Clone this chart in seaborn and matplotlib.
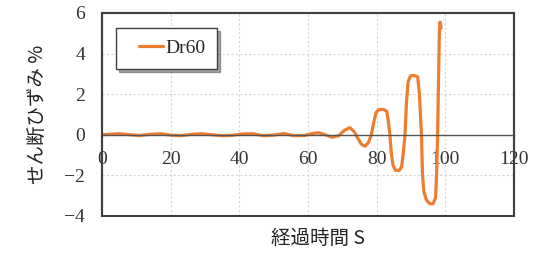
import numpy as np
import pandas as pd
import seaborn as sns
import matplotlib.pyplot as plt
from matplotlib.patches import Rectangle
from matplotlib.legend_handler import HandlerLine2D

# data
time = [0, 2, 5, 8, 11, 14, 17, 20, 23, 26, 29, 32, 35, 38, 41, 44, 47, 50, 53,
        56, 59, 61, 63, 65, 67, 69, 70.5, 72.2, 73.5, 74.3, 75.5, 76.6, 77.6,
        78.5, 79.3, 79.9, 80.6, 82, 83, 83.5, 83.9, 84.3, 84.8, 85.5, 86.5,
        87.3, 87.8, 88.3, 88.7, 89.2, 89.9, 91, 92, 92.5, 93.1, 93.4, 93.8,
        94.5, 95.5, 96.5, 97.2, 97.5, 97.8, 98.1, 98.3, 98.5, 98.8]
strain = [0.0, 0.02, 0.05, 0.0, -0.04, 0.02, 0.05, -0.02, -0.05, 0.02, 0.05,
          0.0, -0.05, -0.03, 0.04, 0.05, -0.05, -0.02, 0.06, -0.05, -0.04, 0.05,
          0.1, 0.0, -0.12, -0.05, 0.2, 0.35, 0.15, -0.1, -0.45, -0.57, -0.4,
          0.0, 0.7, 1.1, 1.23, 1.25, 1.15, 0.6, 0.0, -0.9, -1.5, -1.75, -1.77,
          -1.6, -0.9, 0.0, 1.5, 2.6, 2.9, 2.92, 2.85, 2.0, 0.0, -2.0, -2.8,
          -3.2, -3.4, -3.4, -3.1, -2.0, 0.0, 3.0, 5.0, 5.55, 5.25]
series_name = 'Dr60'
xticks = [0, 20, 40, 60, 80, 100, 120]
yticks = [-4, -2, 0, 2, 4, 6]

df = pd.DataFrame({'time': time, 'strain': strain, 'case': series_name})

sns.set_style('white')
plt.rcParams['font.family'] = ['Liberation Serif', 'Noto Sans CJK JP']

fig = plt.figure(figsize=(5.42, 2.54), dpi=100)
ax = fig.add_axes([0.188, 0.150, 0.760, 0.799])

sns.lineplot(data=df, x='time', y='strain', hue='case', sort=False,
             palette=['#ED7D31'], linewidth=2.3, ax=ax)

ax.set_xlim(0, 120)
ax.set_ylim(-4, 6)
ax.set_xticks(xticks)
ax.set_yticks(yticks)
ax.grid(True, color='#d4d4d4', linestyle=(0, (2, 2)), linewidth=0.8)

# x axis crosses at 0 like Excel
ax.spines['bottom'].set_position(('data', 0))
ax.spines['bottom'].set_color('#555555')
ax.spines['bottom'].set_linewidth(1.0)
for s in ['left', 'right', 'top']:
    ax.spines[s].set_color('#404040')
    ax.spines[s].set_linewidth(1.5)
ax.add_patch(Rectangle((0, 0), 1, 1, transform=ax.transAxes, fill=False,
                       edgecolor='#404040', linewidth=1.5, clip_on=False, zorder=5))

ax.tick_params(axis='x', length=0, pad=12, labelsize=14, labelcolor='#333333')
ax.tick_params(axis='y', length=0, pad=12, labelsize=14, labelcolor='#333333')

ax.set_xlabel('')
ax.set_ylabel('せん断ひずみ %', fontsize=14, family=['Noto Sans CJK JP'],
              color='#222222', labelpad=12)
fig.text(0.587, 0.063, '経過時間 S', fontsize=14, family=['Noto Sans CJK JP'],
         color='#222222', ha='center', va='center')

handles, labels = ax.get_legend_handles_labels()
leg = ax.legend(handles, labels, loc='upper left', bbox_to_anchor=(0.034, 0.926),
                frameon=True, fancybox=False, shadow=True, fontsize=14,
                handlelength=1.8, handletextpad=0.15, borderpad=0.6,
                borderaxespad=0, handler_map={handles[0]: HandlerLine2D(xpad=0.6)})
leg.get_frame().set_edgecolor('#404040')
leg.get_frame().set_linewidth(1.0)

fig.savefig('out.png', dpi=100, facecolor='white')
